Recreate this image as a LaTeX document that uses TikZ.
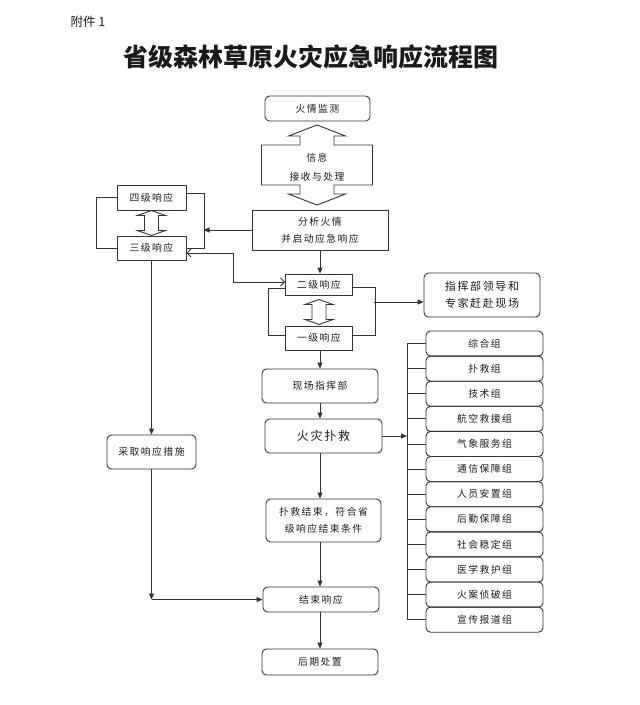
\documentclass[tikz,border=0pt]{standalone}
\usepackage{fontspec}
\setmainfont{Noto Sans CJK SC}
\newfontfamily\boxfont[LetterSpace=15]{Noto Sans CJK SC}
\usetikzlibrary{arrows.meta,positioning,calc}
\definecolor{ink}{HTML}{1A1A1A}
\definecolor{edge}{HTML}{333333}

\begin{document}
\begin{tikzpicture}[x=1pt,y=-1pt,>={Triangle[length=6pt,width=5pt]},
  box/.style={draw=edge,line width=0.9pt,inner sep=1pt,align=center,text=ink,font=\boxfont\fontsize{9.8}{17}\selectfont},
  rbox/.style={box,rounded corners=4.5pt},
  link/.style={draw=edge,line width=0.9pt},
  barb/.style={link,{Straight Barb[length=4pt,width=8pt]}-{Straight Barb[length=4pt,width=8pt]}}]
  \useasboundingbox (0,0) rectangle (640,705);
  \node[anchor=west,font=\fontsize{12.5}{13}\selectfont,text=ink] (annex) at (67,22) {附件 1};
  \node[font=\bfseries\fontsize{25}{25}\selectfont,text=ink] (title) at (311,57) {省级森林草原火灾应急响应流程图};
  % main column
  \node[rbox,minimum width=105pt,minimum height=25pt] (mon) at (317.5,108.5) {火情监测};
  \node[font=\boxfont\fontsize{9.8}{19}\selectfont,text=ink,align=center] (info) at (317,167) {信息\\接收与处理};
  \node[box,minimum width=136pt,minimum height=40pt] (ana) at (320,230) {分析火情\\并启动应急响应};
  \node[box,minimum width=67pt,minimum height=21pt] (l2) at (319,284.5) {二级响应};
  \node[box,minimum width=67pt,minimum height=24pt] (l1) at (319,338) {一级响应};
  \node[rbox,minimum width=116pt,minimum height=34pt] (cmd) at (320,386) {现场指挥部};
  \node[rbox,minimum width=117pt,minimum height=34pt,font=\boxfont\fontsize{12}{14}\selectfont] (fight) at (323.5,436) {火灾扑救};
  \node[rbox,minimum width=115pt,minimum height=43pt] (done) at (323.5,520.5) {扑救结束，符合省\\级响应结束条件};
  \node[rbox,minimum width=116pt,minimum height=25pt] (fin) at (321,599.5) {结束响应};
  \node[rbox,minimum width=116pt,minimum height=26pt] (post) at (320,662) {后期处置};
  % left column
  \node[box,minimum width=69pt,minimum height=25pt] (l4) at (151.5,197.5) {四级响应};
  \node[box,minimum width=69pt,minimum height=24pt] (l3) at (151.5,248) {三级响应};
  \node[rbox,minimum width=89pt,minimum height=34pt] (act) at (151.5,452) {采取响应措施};
  % right column
  \node[rbox,minimum width=116pt,minimum height=44pt,font=\boxfont\fontsize{11}{17}\selectfont] (ldr) at (482,295) {指挥部领导和\\专家赶赴现场};
  \coordinate (spine) at (407,0);
  \foreach \g [count=\i] in {综合组,扑救组,技术组,航空救援组,气象服务组,通信保障组,人员安置组,后勤保障组,社会稳定组,医学救护组,火案侦破组,宣传报道组}{
    \node[rbox,minimum width=117pt,minimum height=25.1pt] (g\i) at (484.5,{331+25.1*(\i-0.5)}) {\g};
    \draw[link] (g\i.west) -- (g\i.west -| spine);
  }
  \draw[link] (g1.west -| spine) -- (g12.west -| spine);
  % hollow double arrows
  \draw[link] (317,125) -- (345.5,136) -- (334,136) -- (334,145) -- (372.5,145) -- (372.5,185) -- (334,185) -- (334,194) -- (345.5,194) -- (317,205) -- (288.5,194) -- (300,194) -- (300,185) -- (261.5,185) -- (261.5,145) -- (300,145) -- (300,136) -- (288.5,136) -- cycle;
  \foreach \cx/\cy in {151.5/223,319/312}
    \draw[link] (\cx,\cy-12.5) -- ++(14,5) -- ++(-7,0) -- ++(0,15) -- ++(7,0) -- ++(-14,5) -- ++(-14,-5) -- ++(7,0) -- ++(0,-15) -- ++(-7,0) -- cycle;
  % brackets
  \draw[link] (l4.west) -- ++(-20,0) |- (l3.west);
  \draw[link] ([yshift=4.5pt]l4.east) -- ++(18,0) |- (l3.east);
  \draw[link] ([yshift=-3.5pt]l2.west) -- ++(-17,0) |- ([yshift=3pt]l1.west);
  \draw[link] ([yshift=-2.5pt]l2.east) -- ++(22,0) |- ([yshift=3pt]l1.east);
  \coordinate (br2) at (374,302);
  % connectors
  \draw[link,->] (ana.west) -- ++(-48,0);
  \draw[barb] ([yshift=-5pt]l3.east) -- ++(47,0) |- ([yshift=2.5pt]l2.west);
  \draw[link,->] (br2) -- (br2 -| ldr.west);
  \draw[link,->] (ana.south) -- (ana.south |- l2.north);
  \draw[link,->] (l1.south -| cmd.south) -- (cmd.north);
  \draw[link,->] (cmd.south) -- (cmd.south |- fight.north);
  \draw[link,->] (cmd.south |- fight.south) -- (cmd.south |- done.north);
  \draw[link,->] (cmd.south |- done.south) -- (cmd.south |- fin.north);
  \draw[link,->] (fin.south -| post.north) -- (post.north);
  \draw[link,->] (fight.east) -- (fight.east -| spine);
  \draw[link,->] (l3.south) -- (act.north);
  \draw[link,->] (act.south) -- (act.south |- fin.west);
  \draw[link,->] (act.south |- fin.west) -- (fin.west);
\end{tikzpicture}
\end{document}
